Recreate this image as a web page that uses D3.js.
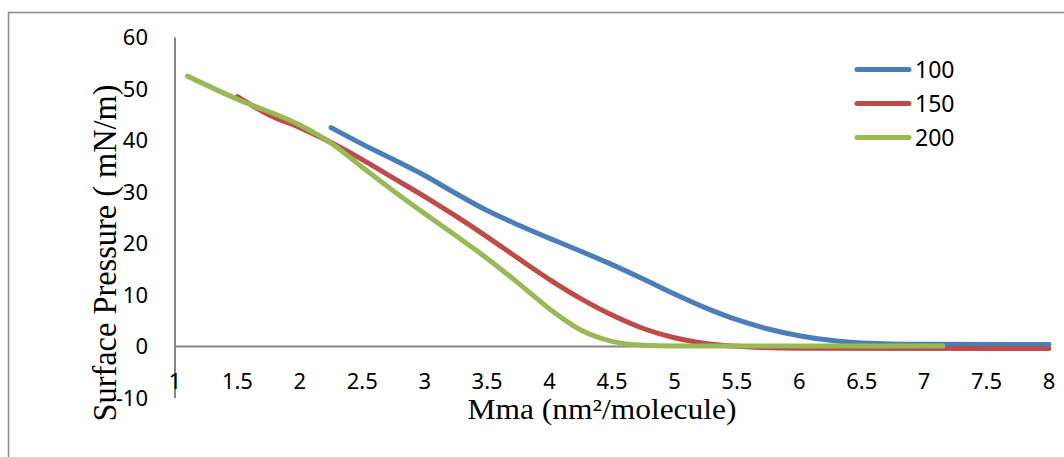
<!DOCTYPE html>
<html>
<head>
<meta charset="utf-8">
<script src="https://cdn.jsdelivr.net/npm/d3@7"></script>
<style>
  body { margin: 0; background: #fff; }
  svg { display: block; }
</style>
</head>
<body>
<div class="chart"></div>
<script>
// series values (x = Mma, y = surface pressure)
const mma100 = [2.25, 2.5, 2.75, 3.0, 3.25, 3.5, 3.75, 4.0, 4.25, 4.5, 4.75, 5.0, 5.25, 5.5, 5.75, 6.0, 6.25, 6.5, 7.0, 8.0];
const pres100 = [42.5, 39.3, 36.3, 33.2, 29.7, 26.4, 23.6, 21, 18.5, 15.9, 13.1, 10.2, 7.5, 5.2, 3.4, 2.1, 1.2, 0.7, 0.45, 0.4];

const mma150 = [1.5, 1.75, 2.0, 2.25, 2.5, 2.75, 3.0, 3.25, 3.5, 3.75, 4.0, 4.25, 4.5, 4.75, 5.0, 5.25, 5.5, 6.0, 8.0];
const pres150 = [48.5, 45, 42.5, 39.6, 36.3, 32.7, 29.1, 25.3, 21.3, 17.1, 13, 9.3, 6.1, 3.5, 1.7, 0.6, 0.05, -0.35, -0.4];

const mma200 = [1.1, 1.5, 2.0, 2.25, 2.5, 2.75, 3.0, 3.25, 3.5, 3.75, 4.0, 4.25, 4.5, 4.75, 5.0, 7.15];
const pres200 = [52.5, 48, 43, 39.5, 34.8, 30.2, 25.8, 21.5, 17.1, 12.3, 7.3, 3.2, 1.0, 0.25, 0.1, 0.1];

const seriesNames = ["100", "150", "200"];
const xTicks = [1, 1.5, 2, 2.5, 3, 3.5, 4, 4.5, 5, 5.5, 6, 6.5, 7, 7.5, 8];
const yTicks = [-10, 0, 10, 20, 30, 40, 50, 60];

const colors = ["#4A7EBB", "#BE4B48", "#98B954"];

const series = [
    {name: seriesNames[0], pts: mma100.map((x, i) => [x, pres100[i]])},
    {name: seriesNames[1], pts: mma150.map((x, i) => [x, pres150[i]])},
    {name: seriesNames[2], pts: mma200.map((x, i) => [x, pres200[i]])}
];

const width = 1064;
const height = 457;

const svg = d3.select('.chart')
    .append('svg')
    .attr('width', width)
    .attr('height', height);

// outer frame
svg.append('rect')
    .attr('x', 8.5)
    .attr('y', 12.5)
    .attr('width', 1100)
    .attr('height', 500)
    .attr('fill', 'none')
    .attr('stroke', '#8c8c8c')
    .attr('stroke-width', 1.5);

const xScale = d3.scaleLinear()
    .domain([1, 8])
    .range([175, 1049]);

const yScale = d3.scaleLinear()
    .domain([-10, 60])
    .range([398, 37.5]);

const tickFont = "'Noto Sans', sans-serif";

// y axis line
svg.append('line')
    .attr('x1', xScale(1)).attr('x2', xScale(1))
    .attr('y1', yScale(60)).attr('y2', yScale(-10))
    .attr('stroke', '#868686')
    .attr('stroke-width', 2);

// x axis line at zero
svg.append('line')
    .attr('x1', xScale(1)).attr('x2', xScale(8))
    .attr('y1', yScale(0)).attr('y2', yScale(0))
    .attr('stroke', '#868686')
    .attr('stroke-width', 2);

svg.append('g')
    .selectAll('text')
    .data(yTicks)
    .enter()
    .append('text')
        .attr('x', 148)
        .attr('y', d => yScale(d))
        .attr('dy', '0.36em')
        .attr('text-anchor', 'end')
        .style('font-family', tickFont)
        .style('font-size', '22px')
        .style('fill', '#000')
        .text(d => d);

svg.append('g')
    .selectAll('text')
    .data(xTicks)
    .enter()
    .append('text')
        .attr('x', d => xScale(d))
        .attr('y', 389)
        .attr('text-anchor', 'middle')
        .style('font-family', tickFont)
        .style('font-size', '22px')
        .style('fill', '#000')
        .text(d => d);

// series lines
const line = d3.line()
    .x(d => xScale(d[0]))
    .y(d => yScale(d[1]))
    .curve(d3.curveMonotoneX);

svg.append('g')
    .selectAll('path')
    .data(series)
    .enter()
    .append('path')
        .attr('d', d => line(d.pts))
        .attr('fill', 'none')
        .attr('stroke', (d, i) => colors[i])
        .attr('stroke-width', 5)
        .attr('stroke-linecap', 'round')
        .attr('stroke-linejoin', 'round');

// axis titles
svg.append('text')
    .attr('x', 602)
    .attr('y', 419)
    .attr('text-anchor', 'middle')
    .attr('textLength', 269)
    .attr('lengthAdjust', 'spacingAndGlyphs')
    .style('font-family', "'Liberation Serif', 'Times New Roman', serif")
    .style('font-size', '29px')
    .text("Mma (nm\u00B2/molecule)");

svg.append('text')
    .attr('transform', 'translate(116,253) rotate(-90)')
    .attr('text-anchor', 'middle')
    .attr('textLength', 337)
    .attr('lengthAdjust', 'spacingAndGlyphs')
    .style('font-family', "'Liberation Serif', 'Times New Roman', serif")
    .style('font-size', '34px')
    .text("Surface Pressure ( mN/m)");

// legend
const legend = svg.append('g')
    .selectAll('g')
    .data(seriesNames)
    .enter()
    .append('g')
        .attr('transform', (d, i) => `translate(0, ${69.5 + i * 34})`);

legend.append('line')
    .attr('x1', 857).attr('x2', 909)
    .attr('y1', 0).attr('y2', 0)
    .attr('stroke', (d, i) => colors[i])
    .attr('stroke-width', 5)
    .attr('stroke-linecap', 'round');

legend.append('text')
    .attr('x', 915)
    .attr('y', 0)
    .attr('dy', '0.36em')
    .style('font-family', tickFont)
    .style('font-size', '23px')
    .style('fill', '#000')
    .text(d => d);
</script>
</body>
</html>
